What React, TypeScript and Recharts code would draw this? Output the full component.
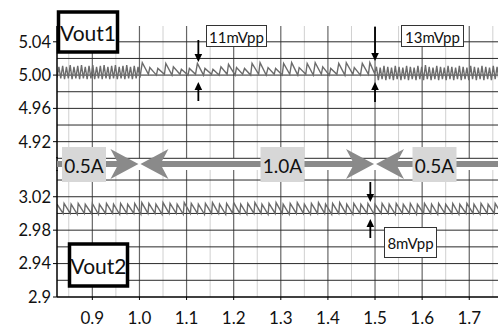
import React from 'react';
import { LineChart, Line, XAxis, YAxis, ReferenceLine } from 'recharts';

const FONT = 'Lato, "Open Sans", "DejaVu Sans", sans-serif';

// time axis
const xDomain = [0.825, 1.761];
const xTicks = [0.9, 1.0, 1.1, 1.2, 1.3, 1.4, 1.5, 1.6, 1.7];
const minorGridX = [0.85, 0.95, 1.05, 1.15, 1.25, 1.35, 1.45, 1.55, 1.65, 1.75];

// Vout1 panel
const vout1Domain = [4.9, 5.059];
const vout1Ticks = [4.92, 4.96, 5.0, 5.04];
const vout1TickLabels = ['4.92', '4.96', '5.00', '5.04'];
const vout1GridY = [4.9, 4.92, 4.94, 4.96, 4.98, 5.0, 5.02, 5.04];

// Vout2 panel
const vout2Domain = [2.9, 3.052];
const vout2Ticks = [2.9, 2.94, 2.98, 3.02];
const vout2TickLabels = ['2.9', '2.94', '2.98', '3.02'];
const vout2GridY = [2.92, 2.94, 2.96, 2.98, 3.0, 3.02, 3.04];

// load step annotation
const currentLabels = ['0.5A', '1.0A', '0.5A'];
const stepEdges = [1.0, 1.5];
const rippleMarks = [
  { x: 1.125, label: '11mVpp' },
  { x: 1.5, label: '13mVpp' },
];
const vout2Mark = { x: 1.49, label: '8mVpp' };

// traces [t, V]
const vout1Points: [number, number][] = [
  [0.825, 4.997], [0.829, 5.010], [0.833, 4.996], [0.837, 5.011], [0.841, 4.995], [0.845, 5.010], [0.849, 4.996], [0.853, 5.012],
  [0.857, 4.995], [0.861, 5.010], [0.865, 4.996], [0.869, 5.011], [0.873, 4.995], [0.877, 5.012], [0.881, 4.996], [0.885, 5.010],
  [0.889, 4.995], [0.893, 5.011], [0.897, 4.996], [0.901, 5.012], [0.905, 4.995], [0.909, 5.010], [0.913, 4.996], [0.917, 5.011],
  [0.921, 4.995], [0.925, 5.012], [0.929, 4.996], [0.933, 5.010], [0.937, 4.995], [0.941, 5.011], [0.945, 4.996], [0.949, 5.012],
  [0.953, 4.995], [0.957, 5.010], [0.961, 4.996], [0.965, 5.011], [0.969, 4.995], [0.973, 5.012], [0.977, 4.996], [0.981, 5.010],
  [0.985, 4.995], [0.989, 5.011], [0.993, 4.996], [0.997, 5.010], [1.001, 4.997],
  [1.006, 5.015], [1.019, 5.001], [1.022, 5.009], [1.036, 5.000], [1.039, 5.008], [1.053, 5.001], [1.056, 5.014], [1.069, 5.000],
  [1.072, 5.010], [1.086, 5.001], [1.089, 5.007], [1.103, 5.000], [1.106, 5.008], [1.119, 5.001], [1.123, 5.014], [1.136, 5.000],
  [1.139, 5.008], [1.153, 5.001], [1.156, 5.007], [1.169, 5.000], [1.173, 5.010], [1.186, 5.001], [1.189, 5.013], [1.203, 5.000],
  [1.206, 5.009], [1.219, 5.001], [1.223, 5.008], [1.236, 5.000], [1.239, 5.014], [1.253, 5.001], [1.256, 5.015], [1.269, 5.000],
  [1.273, 5.009], [1.286, 5.001], [1.289, 5.008], [1.303, 5.000], [1.306, 5.014], [1.319, 5.001], [1.323, 5.015], [1.336, 5.000],
  [1.339, 5.009], [1.353, 5.001], [1.356, 5.014], [1.369, 5.000], [1.373, 5.015], [1.386, 5.001], [1.389, 5.010], [1.403, 5.000],
  [1.406, 5.008], [1.419, 5.001], [1.423, 5.014], [1.436, 5.000], [1.439, 5.015], [1.453, 5.001], [1.456, 5.009], [1.469, 5.000],
  [1.473, 5.014], [1.486, 5.001], [1.489, 5.015], [1.499, 5.002],
  [1.503, 5.010], [1.507, 4.994], [1.511, 5.009], [1.515, 4.995], [1.519, 5.011], [1.523, 4.994], [1.527, 5.010], [1.531, 4.995],
  [1.535, 5.009], [1.539, 4.994], [1.543, 5.011], [1.547, 4.995], [1.551, 5.010], [1.555, 4.994], [1.559, 5.009], [1.563, 4.995],
  [1.567, 5.011], [1.571, 4.994], [1.575, 5.010], [1.579, 4.995], [1.583, 5.009], [1.587, 4.994], [1.591, 5.011], [1.595, 4.995],
  [1.599, 5.010], [1.603, 4.994], [1.607, 5.012], [1.611, 4.995], [1.615, 5.010], [1.619, 4.994], [1.623, 5.009], [1.627, 4.995],
  [1.631, 5.011], [1.635, 4.994], [1.639, 5.010], [1.643, 4.995], [1.647, 5.009], [1.651, 4.994], [1.655, 5.011], [1.659, 4.995],
  [1.663, 5.010], [1.667, 4.994], [1.671, 5.009], [1.675, 4.995], [1.679, 5.011], [1.683, 4.994], [1.687, 5.010], [1.691, 4.995],
  [1.695, 5.009], [1.699, 4.994], [1.703, 5.011], [1.707, 4.995], [1.711, 5.010], [1.715, 4.994], [1.719, 5.009], [1.723, 4.995],
  [1.727, 5.011], [1.731, 4.994], [1.735, 5.010], [1.739, 4.995], [1.743, 5.009], [1.747, 4.994], [1.751, 5.011], [1.755, 4.995],
  [1.759, 5.010], [1.763, 4.994],
];

const vout2Points: [number, number][] = [
  [0.825, 3.011], [0.838, 3.000], [0.840, 3.012], [0.853, 3.000], [0.855, 3.011], [0.868, 2.999], [0.870, 3.012], [0.883, 3.000],
  [0.885, 3.011], [0.898, 3.000], [0.900, 3.012], [0.913, 2.999], [0.915, 3.011], [0.928, 3.000], [0.930, 3.012], [0.943, 3.000],
  [0.945, 3.011], [0.958, 2.999], [0.960, 3.012], [0.973, 3.000], [0.975, 3.011], [0.988, 3.000], [0.990, 3.012], [1.003, 2.999],
  [1.005, 3.013], [1.018, 3.000], [1.020, 3.012], [1.033, 3.000], [1.035, 3.011], [1.048, 2.999], [1.050, 3.013], [1.063, 3.000],
  [1.065, 3.012], [1.078, 3.000], [1.080, 3.011], [1.093, 2.999], [1.095, 3.013], [1.108, 3.000], [1.110, 3.012], [1.123, 3.000],
  [1.125, 3.011], [1.138, 2.999], [1.140, 3.012], [1.153, 3.000], [1.155, 3.013], [1.168, 3.000], [1.170, 3.011], [1.183, 2.999],
  [1.185, 3.012], [1.198, 3.000], [1.200, 3.013], [1.213, 3.000], [1.215, 3.011], [1.228, 2.999], [1.230, 3.012], [1.243, 3.000],
  [1.245, 3.013], [1.258, 3.000], [1.260, 3.011], [1.273, 2.999], [1.275, 3.012], [1.288, 3.000], [1.290, 3.013], [1.303, 3.000],
  [1.305, 3.011], [1.318, 2.999], [1.320, 3.012], [1.333, 3.000], [1.335, 3.013], [1.348, 3.000], [1.350, 3.011], [1.363, 2.999],
  [1.365, 3.012], [1.378, 3.000], [1.380, 3.013], [1.393, 3.000], [1.395, 3.011], [1.408, 2.999], [1.410, 3.012], [1.423, 3.000],
  [1.425, 3.013], [1.438, 3.000], [1.440, 3.011], [1.453, 2.999], [1.455, 3.012], [1.468, 3.000], [1.470, 3.011], [1.483, 3.000],
  [1.485, 3.012], [1.498, 2.999], [1.500, 3.011], [1.513, 3.000], [1.515, 3.012], [1.528, 3.000], [1.530, 3.011], [1.543, 2.999],
  [1.545, 3.012], [1.558, 3.000], [1.560, 3.011], [1.573, 3.000], [1.575, 3.012], [1.588, 2.999], [1.590, 3.011], [1.603, 3.000],
  [1.605, 3.012], [1.618, 3.000], [1.620, 3.011], [1.633, 2.999], [1.635, 3.012], [1.648, 3.000], [1.650, 3.011], [1.663, 3.000],
  [1.665, 3.012], [1.678, 2.999], [1.680, 3.011], [1.693, 3.000], [1.695, 3.012], [1.708, 3.000], [1.710, 3.011], [1.723, 2.999],
  [1.725, 3.012], [1.738, 3.000], [1.740, 3.011], [1.753, 3.000], [1.755, 3.012], [1.768, 3.000],
];

const vout1Data = vout1Points.map(([t, v]) => ({ t, v }));
const vout2Data = vout2Points.map(([t, v]) => ({ t, v }));

const W = 498;
const H = 329;
const PLOT_L = 57;
const PLOT_R = 498;
const xPx = (v: number) => PLOT_L + ((v - xDomain[0]) / (xDomain[1] - xDomain[0])) * (PLOT_R - PLOT_L);

const TRACE = '#6c6c6c';
const GRID_H = '#2a2a2a';
const GRID_MAJOR = '#666';
const GRID_MINOR = '#d0d0d0';
const BAND = '#8a8a8a';

const Arrow = ({ x, from, to }: { x: number; from: number; to: number }) => {
  const dir = to > from ? 1 : -1;
  const head = 8;
  return (
    <g>
      <line x1={x} y1={from} x2={x} y2={to - dir * head} stroke="#000" strokeWidth={1.8} />
      <polygon points={`${x - 3.8},${to - dir * head} ${x + 3.8},${to - dir * head} ${x},${to}`} fill="#000" />
    </g>
  );
};

const gridLines = (ys: number[]) => [
  ...minorGridX.map((x) => <ReferenceLine key={`mx${x}`} x={x} stroke={GRID_MINOR} strokeWidth={1} />),
  ...xTicks.map((x) => <ReferenceLine key={`Mx${x}`} x={x} stroke={GRID_MAJOR} strokeWidth={1.2} />),
  ...ys.map((y) => <ReferenceLine key={`y${y}`} y={y} stroke={GRID_H} strokeWidth={1} />),
];

const Overlay = () => {
  const bandY = 164;
  const edges = stepEdges.map(xPx);
  const segs = [
    [PLOT_L, edges[0] - 12],
    [edges[0] + 12, edges[1] - 12],
    [edges[1] + 12, PLOT_R],
  ];
  const labelCenters = [84, 282.5, 434.5];
  return (
    <svg width={W} height={H} style={{ position: 'absolute', left: 0, top: 0, pointerEvents: 'none' }}>
      {/* axis through the gap between the two panels */}
      <line x1={PLOT_L} y1={157} x2={PLOT_L} y2={171} stroke="#000" strokeWidth={1.5} />

      {/* load step band */}
      {segs.map(([a, b], i) => (
        <line key={i} x1={a} y1={bandY} x2={b} y2={bandY} stroke={BAND} strokeWidth={6} />
      ))}
      {edges.map((e, i) => (
        <g key={i} fill={BAND}>
          <polygon points={`${e - 1},${bandY} ${e - 29},${bandY - 15} ${e - 21},${bandY} ${e - 29},${bandY + 15}`} />
          <polygon points={`${e + 1},${bandY} ${e + 29},${bandY - 15} ${e + 21},${bandY} ${e + 29},${bandY + 15}`} />
        </g>
      ))}
      {currentLabels.map((lab, i) => (
        <g key={i}>
          <rect x={labelCenters[i] - 22} y={147} width={44} height={35} fill="#d7d7d7" />
          <text x={labelCenters[i]} y={165} textAnchor="middle" dominantBaseline="central" fontSize={19} fill="#111">
            {lab}
          </text>
        </g>
      ))}

      {/* ripple markers */}
      <Arrow x={xPx(rippleMarks[0].x)} from={40} to={62} />
      <Arrow x={xPx(rippleMarks[0].x)} from={101} to={82} />
      <Arrow x={xPx(rippleMarks[1].x)} from={27} to={61} />
      <Arrow x={xPx(rippleMarks[1].x)} from={102} to={82} />
      <Arrow x={xPx(vout2Mark.x)} from={182} to={202} />
      <Arrow x={xPx(vout2Mark.x)} from={238} to={219} />

      <rect x={206.5} y={25.5} width={60} height={21} fill="#fff" stroke="#333" strokeWidth={1} />
      <text x={236.5} y={36.5} textAnchor="middle" dominantBaseline="central" fontSize={15} fill="#111">
        {rippleMarks[0].label}
      </text>
      <rect x={401.5} y={25.5} width={62} height={21} fill="#fff" stroke="#333" strokeWidth={1} />
      <text x={432.5} y={36.5} textAnchor="middle" dominantBaseline="central" fontSize={15} fill="#111">
        {rippleMarks[1].label}
      </text>
      <rect x={384.5} y={227.5} width={52} height={30} fill="#fff" stroke="#333" strokeWidth={1} />
      <text x={410.5} y={243} textAnchor="middle" dominantBaseline="central" fontSize={15} fill="#111">
        {vout2Mark.label}
      </text>

      {/* channel tags */}
      <rect x={58.5} y={12} width={59} height={40} fill="#fff" stroke="#000" strokeWidth={3.5} />
      <text x={88} y={32} textAnchor="middle" dominantBaseline="central" fontSize={21} fill="#111">
        Vout1
      </text>
      <rect x={69.5} y={244} width={58} height={42} fill="#fff" stroke="#000" strokeWidth={3.5} />
      <text x={98.5} y={265} textAnchor="middle" dominantBaseline="central" fontSize={21} fill="#111">
        Vout2
      </text>
    </svg>
  );
};

const tickStyle = { fontSize: 16.5, fill: '#111', fontFamily: FONT };

export default function App() {
  return (
    <div style={{ position: 'absolute', left: 0, top: 0, width: W, height: H, background: '#fff', fontFamily: FONT }}>
      <div style={{ position: 'absolute', left: 0, top: 0 }}>
        <LineChart width={W} height={160} data={vout1Data} margin={{ top: 26, right: 0, bottom: 1.7, left: 0 }}>
          <XAxis dataKey="t" type="number" domain={xDomain} allowDataOverflow hide />
          <YAxis
            type="number"
            domain={vout1Domain}
            allowDataOverflow
            ticks={vout1Ticks}
            interval={0}
            width={57}
            tickFormatter={(v: number) => vout1TickLabels[vout1Ticks.indexOf(v)] ?? String(v)}
            tick={tickStyle}
            tickSize={4}
            tickMargin={2}
            axisLine={{ stroke: '#000', strokeWidth: 1.5 }}
            tickLine={{ stroke: '#000' }}
          />
          {gridLines(vout1GridY)}
          <Line type="linear" dataKey="v" stroke={TRACE} strokeWidth={1.4} dot={false} activeDot={false} isAnimationActive={false} />
        </LineChart>
      </div>
      <div style={{ position: 'absolute', left: 0, top: 0 }}>
        <LineChart width={W} height={H} data={vout2Data} margin={{ top: 170, right: 0, bottom: 0, left: 0 }}>
          <XAxis
            dataKey="t"
            type="number"
            domain={xDomain}
            allowDataOverflow
            ticks={xTicks}
            interval={0}
            height={32}
            tickFormatter={(v: number) => v.toFixed(1)}
            tick={{ ...tickStyle, fontSize: 17 }}
            tickSize={3}
            tickMargin={12}
            axisLine={{ stroke: '#000', strokeWidth: 1.5 }}
            tickLine={{ stroke: '#000' }}
          />
          <YAxis
            type="number"
            domain={vout2Domain}
            allowDataOverflow
            ticks={vout2Ticks}
            interval={0}
            width={57}
            tickFormatter={(v: number) => vout2TickLabels[vout2Ticks.indexOf(v)] ?? String(v)}
            tick={tickStyle}
            tickSize={4}
            tickMargin={2}
            axisLine={{ stroke: '#000', strokeWidth: 1.5 }}
            tickLine={{ stroke: '#000' }}
          />
          {gridLines(vout2GridY)}
          <Line type="linear" dataKey="v" stroke={TRACE} strokeWidth={1.4} dot={false} activeDot={false} isAnimationActive={false} />
        </LineChart>
      </div>
      <Overlay />
    </div>
  );
}
